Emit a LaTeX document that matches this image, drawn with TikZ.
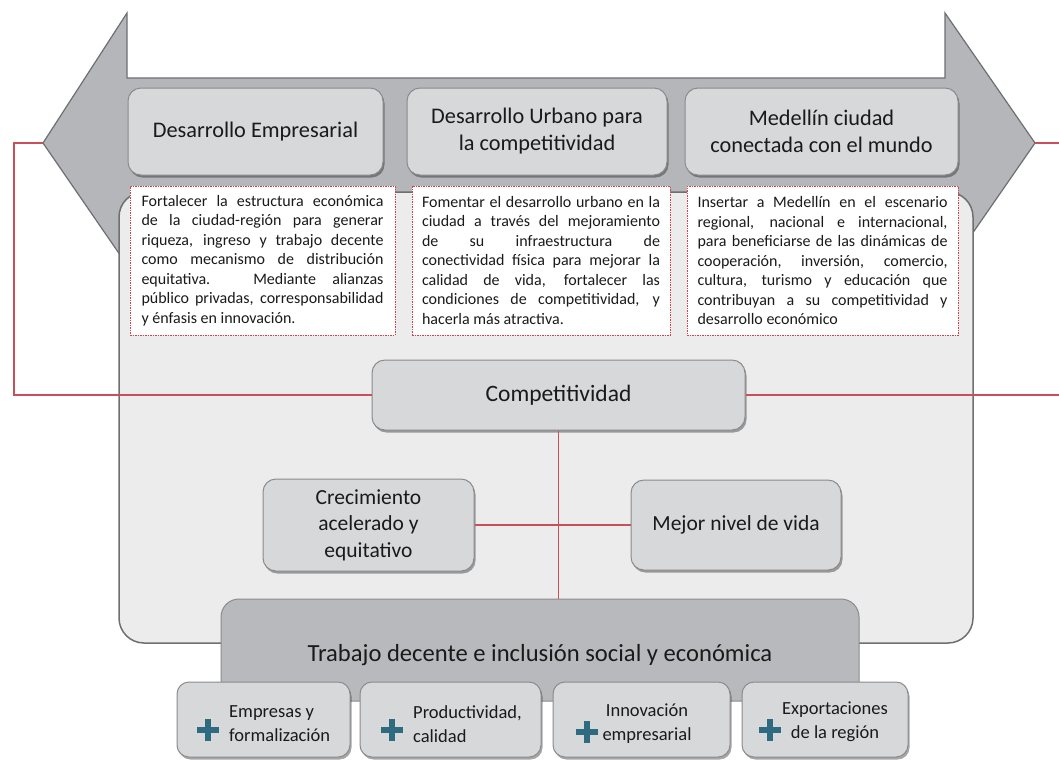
\documentclass[tikz,border=0pt]{standalone}
\usepackage{fontspec}
\setmainfont{Carlito}
\usetikzlibrary{shadows}

\definecolor{arrowfill}{HTML}{B5B6B9}
\definecolor{arrowline}{HTML}{6E6F72}
\definecolor{panelfill}{HTML}{ECECEC}
\definecolor{panelline}{HTML}{6F6F6F}
\definecolor{boxfill}{HTML}{D7D8DA}
\definecolor{boxline}{HTML}{8A8B8D}
\definecolor{workfill}{HTML}{B8B9BC}
\definecolor{linkred}{HTML}{C9505A}
\definecolor{dotred}{HTML}{D0454D}
\definecolor{plusblue}{HTML}{2E6B80}
\definecolor{inktext}{HTML}{1A1A1A}

\newcommand{\notefont}{\fontsize{16}{19.5}\selectfont}

\tikzset{
  softshadow/.style={drop shadow={shadow xshift=1.5pt, shadow yshift=-2.5pt, fill=black, opacity=0.35}},
  graybox/.style={draw=boxline, fill=boxfill, line width=1pt, rounded corners=13pt,
    softshadow, inner sep=0pt, align=center, text=inktext},
  notebox/.style={draw=dotred, fill=white, line width=1pt, dash pattern=on 1.5pt off 1pt,
    inner sep=0pt, text=inktext},
  linkline/.style={draw=linkred, line width=1.3pt},
  plusmark/.style={minimum size=22pt, inner sep=0pt,
    path picture={\draw[plusblue, line width=6.5pt]
      (path picture bounding box.west) -- (path picture bounding box.east)
      (path picture bounding box.north) -- (path picture bounding box.south);}},
  smalltext/.style={font=\fontsize{18.5}{24}\selectfont, text=inktext, inner sep=0pt}
}

\begin{document}
\begin{tikzpicture}[x=1pt, y=-1pt]
\useasboundingbox (0,0) rectangle (1059,761);

% double-headed band across the top
\draw[fill=arrowfill, draw=arrowline, line width=1.2pt]
  (43,143) -- (127,13) -- (127,78) -- (945,78) -- (945,13) -- (1035,143)
  -- (945,273) -- (945,210) -- (127,210) -- (127,265) -- cycle;
\coordinate (ltip) at (43,143);
\coordinate (rtip) at (1035,143);

% large light panel
\draw[fill=panelfill, draw=panelline, line width=1.5pt, rounded corners=25pt]
  (119,192) rectangle (973,643);

% three headings on the band
\node (t1) [graybox, minimum width=255pt, minimum height=87pt,
  font=\fontsize{22.3}{27}\selectfont] at (255.5,131.5) {Desarrollo Empresarial};
\node (t2) [graybox, minimum width=260pt, minimum height=87pt,
  font=\fontsize{22.3}{27}\selectfont] at (537,131.5) {Desarrollo Urbano para\\la competitividad};
\node (t3) [graybox, minimum width=273pt, minimum height=87pt,
  font=\fontsize{22.3}{27}\selectfont] at (821.5,131.5) {Medellín ciudad\\conectada con el mundo};

% description boxes
\node (d1) [notebox, minimum width=265pt, minimum height=149pt] at (262.5,260.5)
  {\parbox{242pt}{\notefont
  Fortalecer la estructura económica\linebreak
  de la ciudad-región para generar\linebreak
  riqueza, ingreso y trabajo decente\linebreak
  como mecanismo de distribución\linebreak
  equitativa. Mediante alianzas\linebreak
  público privadas, corresponsabilidad\linebreak
  y énfasis en innovación.}};
\node (d2) [notebox, minimum width=258pt, minimum height=149pt] at (541,260.5)
  {\parbox{238pt}{\notefont
  Fomentar el desarrollo urbano en la\linebreak
  ciudad a través del mejoramiento\linebreak
  de su infraestructura de\linebreak
  conectividad física para mejorar la\linebreak
  calidad de vida, fortalecer las\linebreak
  condiciones de competitividad, y\linebreak
  hacerla más atractiva.}};
\node (d3) [notebox, minimum width=271pt, minimum height=149pt] at (822.5,260.5)
  {\parbox{250pt}{\notefont
  Insertar a Medellín en el escenario\linebreak
  regional, nacional e internacional,\linebreak
  para beneficiarse de las dinámicas de\linebreak
  cooperación, inversión, comercio,\linebreak
  cultura, turismo y educación que\linebreak
  contribuyan a su competitividad y\linebreak
  desarrollo económico}};

% central boxes
\node (comp) [graybox, minimum width=373pt, minimum height=70pt,
  font=\fontsize{23.5}{28}\selectfont] at (558.5,395) {Competitividad};
\node (grow) [graybox, minimum width=211pt, minimum height=92pt,
  font=\fontsize{21.5}{26.5}\selectfont] at (368.5,525) {Crecimiento\\acelerado y\\equitativo};
\node (life) [graybox, minimum width=210pt, minimum height=90pt,
  font=\fontsize{21.5}{26}\selectfont] at (736,525) {Mejor nivel de vida};

% bottom band
\node (work) [draw=boxline, fill=workfill, line width=1pt, rounded corners=18pt,
  minimum width=638pt, minimum height=102pt, inner sep=0pt] at (540,650) {};
\node (worktext) [font=\fontsize{24.6}{28}\selectfont, text=inktext, inner sep=0pt]
  at (540,655) {Trabajo decente e inclusión social y económica};

% four items under the bottom band
\node (s1) [graybox, rounded corners=12pt, minimum width=173pt, minimum height=75pt] at (263.5,719.5) {};
\node (s2) [graybox, rounded corners=12pt, minimum width=181pt, minimum height=75pt] at (450.5,719.5) {};
\node (s3) [graybox, rounded corners=12pt, minimum width=177pt, minimum height=75pt] at (641.5,719.5) {};
\node (s4) [graybox, rounded corners=12pt, minimum width=166pt, minimum height=75pt] at (825,719.5) {};

\node (p1) [plusmark] at (208,730) {};
\node (p2) [plusmark] at (392,730) {};
\node (p3) [plusmark] at (587,732) {};
\node (p4) [plusmark] at (770,730) {};

\node (s1text) [smalltext, anchor=west, align=left] at (229,724) {Empresas y\\formalización};
\node (s2text) [smalltext, anchor=west, align=left] at (413,724) {Productividad,\\calidad};
\node (s3text) [smalltext, align=center] at (647,724) {Innovación\\empresarial};
\node (s4text) [smalltext, align=center] at (835,722) {Exportaciones\\de la región};

% red links
\coordinate (lcorner) at (14,143);
\coordinate (redge) at (1059,143);
\draw[linkline] (ltip) -- (lcorner) |- (comp.west);
\draw[linkline] (rtip) -- (redge);
\draw[linkline] (comp.east) -- (comp.east -| redge);
\draw[linkline] (comp.south) -- (comp.south |- work.north);
\draw[linkline] (grow.east) -- (life.west);
\end{tikzpicture}
\end{document}
